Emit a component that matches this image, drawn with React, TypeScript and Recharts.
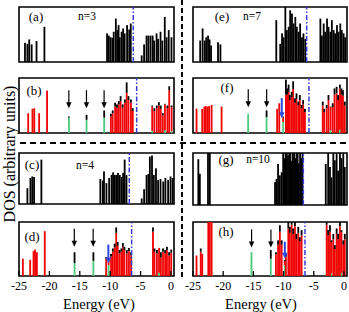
import React from "react";
import { ComposedChart, Bar, XAxis, YAxis, ReferenceLine, ReferenceArea, ReferenceDot } from "recharts";

const energyTicks = [-25, -20, -15, -10, -5, 0];
const X_MIN = -25;
const X_MAX = 0.5;

const RED = "#f00000";
const GREEN = "#4cc97c";
const BLUE = "#3a3ad8";
const ARROW_BLUE = "#2c49e0";
const SERIF = "'Liberation Serif', 'Times New Roman', serif";

// (a) n=3 total DOS
const aE = [-24.0, -23.6, -23.3, -22.9, -22.1, -20.8, -10.5, -10.2, -9.9, -9.6, -9.4, -9.05, -8.8, -8.6, -8.4, -8.1, -7.85, -7.6, -7.2, -6.85, -6.6, -4.8, -4.4, -4.0, -3.7, -3.35, -3.0, -2.75, -2.35, -2.1, -1.7, -1.4, -1.0, -0.7, -0.35, 0.1];
const aTot = [0.35, 0.33, 0.41, 0.32, 0.38, 0.64, 0.52, 0.48, 0.45, 0.44, 0.55, 0.79, 0.58, 0.67, 0.45, 0.55, 0.61, 0.52, 0.67, 0.59, 0.7, 0.12, 0.32, 0.48, 0.48, 0.48, 0.48, 0.39, 0.52, 0.42, 0.55, 0.39, 0.82, 0.45, 0.58, 0.45];
const aFermi = -6.2;

// (b) n=3 projected DOS
const bE = [-23.5, -22.8, -22.5, -21.7, -20.4, -16.8, -13.9, -11.0, -9.9, -9.6, -9.2, -8.9, -8.6, -8.3, -7.95, -7.6, -7.3, -7.0, -6.6, -6.3, -3.1, -2.75, -2.35, -2.0, -1.7, -1.35, -1.0, -0.6, -0.3, 0.1];
const bTot = [0.36, 0.44, 0.45, 0.36, 0.77, 0.3, 0.33, 0.41, 0.35, 0.41, 0.55, 0.52, 0.58, 0.67, 0.52, 0.61, 0.92, 0.67, 0.61, 0.45, 0.5, 0.45, 0.5, 0.56, 0.5, 0.36, 0.53, 0.5, 0.85, 0.5];
const bRed = [0.36, 0.44, 0.45, 0.36, 0.77, 0, 0, 0, 0.3, 0.36, 0.48, 0.46, 0.52, 0.58, 0.46, 0.55, 0.73, 0.6, 0.55, 0.4, 0.44, 0.4, 0.45, 0.5, 0.44, 0.32, 0.47, 0.45, 0.78, 0.44];
const bGreen = [0, 0, 0, 0, 0, 0.28, 0.24, 0.28, 0, 0, 0, 0, 0, 0, 0, 0, 0, 0, 0, 0, 0.04, 0, 0, 0, 0, 0, 0.05, 0, 0, 0.03];
const bArrowE = [-16.8, -13.9, -11.0];
const bFermi = -5.64;

// (c) n=4 total DOS
const cE = [-23.6, -23.1, -22.8, -22.5, -21.3, -11.6, -11.2, -11.0, -10.6, -10.15, -9.75, -9.5, -9.2, -8.9, -8.7, -8.4, -8.1, -7.85, -7.6, -7.3, -4.8, -4.4, -4.0, -3.7, -3.45, -3.1, -2.8, -2.45, -2.1, -1.7, -1.25, -0.9, -0.45, -0.05, 0.3];
const cTot = [0.31, 0.51, 0.54, 0.53, 0.87, 0.49, 0.46, 0.64, 0.41, 0.51, 0.57, 0.62, 0.57, 0.57, 0.61, 0.57, 0.53, 0.61, 0.87, 0.57, 0.11, 0.29, 0.57, 0.59, 0.93, 0.95, 0.57, 0.7, 0.47, 0.49, 0.44, 0.51, 0.47, 0.54, 0.51];
const cFermi = -6.86;

// (d) n=4 projected DOS
const dE = [-24.4, -23.2, -22.65, -22.4, -22.1, -20.8, -15.9, -12.8, -10.7, -10.3, -9.9, -9.6, -9.3, -9.05, -8.8, -8.5, -8.2, -7.95, -7.7, -7.3, -6.95, -6.6, -3.0, -2.75, -2.35, -2.0, -1.7, -1.35, -1.0, -0.7, -0.35, 0.0];
const dTot = [0.32, 0.3, 0.46, 0.49, 0.44, 0.83, 0.44, 0.44, 0.35, 0.3, 0.41, 0.51, 0.6, 0.9, 0.63, 0.48, 0.51, 0.61, 0.54, 0.48, 0.52, 0.44, 0.9, 0.51, 0.48, 0.52, 0.44, 0.51, 0.48, 0.54, 0.44, 0.49];
const dRed = [0.32, 0.3, 0.46, 0.49, 0.44, 0.83, 0, 0, 0.32, 0.1, 0.36, 0.45, 0.53, 0.8, 0.56, 0.42, 0.45, 0.54, 0.48, 0.42, 0.46, 0.38, 0.82, 0.45, 0.42, 0.46, 0.34, 0.45, 0.42, 0.48, 0.38, 0.43];
const dGreen = [0, 0, 0, 0, 0, 0, 0.24, 0.28, 0, 0.2, 0, 0, 0, 0, 0, 0, 0, 0, 0, 0, 0, 0, 0, 0, 0, 0.06, 0, 0, 0, 0, 0, 0];
const dArrowE = [-15.9, -12.8];
const dBlueArrowE = -10.3;
const dFermi = -6.47;

// (e) n=7 total DOS
const eE = [-23.85, -23.45, -23.1, -22.85, -22.55, -22.3, -22.05, -20.9, -20.5, -11.25, -10.6, -10.3, -10.05, -9.75, -9.5, -9.2, -8.95, -8.65, -8.4, -8.1, -7.85, -7.55, -7.3, -7.0, -6.75, -6.45, -3.95, -3.7, -3.4, -3.15, -2.85, -2.6, -2.3, -2.05, -1.75, -1.5, -1.2, -0.95, -0.65, -0.4, -0.1, 0.15];
const eTot = [0.39, 0.61, 0.39, 0.45, 0.48, 0.41, 0.3, 0.36, 0.32, 0.76, 0.33, 0.52, 0.45, 1.05, 0.58, 0.64, 0.94, 0.88, 0.7, 0.82, 0.64, 0.55, 0.7, 0.45, 0.52, 0.42, 0.79, 0.48, 0.7, 0.55, 0.79, 0.64, 0.55, 0.76, 0.58, 0.52, 0.67, 0.55, 0.7, 0.58, 0.52, 0.45];
const eFermi = -6.18;

// (f) n=7 projected DOS
const fE = [-24.4, -23.45, -23.1, -22.85, -22.55, -22.3, -21.9, -20.25, -15.85, -12.8, -11.05, -10.7, -10.05, -9.6, -9.4, -9.15, -8.95, -8.65, -8.4, -8.1, -7.85, -7.55, -7.3, -7.0, -6.75, -6.45, -3.5, -3.25, -2.85, -2.55, -2.2, -1.85, -1.55, -1.2, -0.95, -0.65, -0.4, -0.15, 0.15];
const fTot = [0.44, 0.44, 0.48, 0.49, 0.48, 0.49, 0.51, 0.48, 0.35, 0.41, 0.44, 0.54, 0.3, 0.97, 0.81, 0.88, 0.69, 0.75, 0.94, 0.63, 0.72, 0.57, 0.69, 0.51, 0.6, 0.44, 0.57, 0.44, 0.51, 0.69, 0.48, 0.54, 0.81, 0.84, 0.69, 0.88, 0.81, 0.78, 0.57];
const fRed = [0.44, 0.44, 0.48, 0.49, 0.48, 0.49, 0.51, 0.48, 0, 0, 0.44, 0.54, 0.08, 0.7, 0.7, 0.75, 0.6, 0.65, 0.8, 0.55, 0.62, 0.5, 0.6, 0.45, 0.52, 0.38, 0.5, 0.38, 0.45, 0.6, 0.42, 0.47, 0.7, 0.72, 0.6, 0.75, 0.7, 0.68, 0.5];
const fGreen = [0, 0, 0, 0, 0, 0, 0, 0, 0.35, 0.29, 0, 0, 0.2, 0, 0, 0, 0, 0, 0, 0, 0, 0, 0, 0, 0, 0, 0, 0, 0, 0, 0.05, 0, 0, 0, 0, 0.06, 0, 0, 0];
const fArrowE = [-15.85, -12.8];
const fBlueArrowE = -10.3;
const fFermi = -5.8;

// (g) n=10 total DOS
const gE = [-24.1, -23.85, -22.5, -22.2, -11.4, -11.15, -10.9, -10.6, -10.3, -10.05, -9.85, -9.65, -9.45, -9.25, -9.05, -8.85, -8.65, -8.45, -8.25, -8.05, -7.85, -7.65, -7.45, -7.25, -7.05, -6.85, -3.0, -2.6, -2.3, -2.05, -1.75, -1.5, -1.2, -0.95, -0.65, -0.4, -0.1, 0.15];
const gTot = [0.88, 0.6, 1.05, 1.05, 0.44, 0.5, 0.79, 0.57, 0.63, 1.05, 0.9, 1.05, 1.05, 0.95, 1.05, 1.05, 0.85, 1.05, 1.05, 0.9, 1.05, 1.05, 0.8, 1.05, 0.9, 1.05, 0.79, 1.05, 0.73, 0.53, 1.05, 0.86, 1.05, 0.66, 1.05, 0.9, 1.05, 0.73];
const gFermi = -6.73;

// (h) n=10 projected DOS
const hE = [-24.4, -23.7, -23.45, -22.45, -22.2, -21.9, -15.3, -12.1, -11.25, -10.9, -10.6, -10.3, -9.8, -9.6, -9.2, -8.95, -8.65, -8.4, -8.1, -7.85, -7.55, -7.3, -7.0, -2.85, -2.6, -2.3, -2.05, -1.75, -1.5, -1.2, -0.95, -0.65, -0.4, -0.1, 0.15];
const hTot = [0.38, 0.51, 0.41, 1.05, 1.05, 1.05, 0.44, 0.48, 0.44, 0.66, 0.94, 0.66, 0.3, 0.41, 1.0, 0.91, 1.05, 0.88, 1.05, 0.78, 0.91, 0.72, 0.85, 1.05, 0.85, 0.94, 0.66, 0.78, 0.57, 0.88, 0.78, 1.05, 0.85, 0.66, 0.78];
const hRed = [0.38, 0.45, 0.41, 1.05, 1.05, 1.05, 0, 0, 0.4, 0.58, 0.82, 0.58, 0.08, 0.36, 0.88, 0.8, 0.95, 0.78, 0.92, 0.68, 0.8, 0.64, 0.75, 0.95, 0.75, 0.82, 0.58, 0.68, 0.5, 0.78, 0.68, 0.92, 0.75, 0.58, 0.68];
const hGreen = [0, 0, 0, 0, 0, 0, 0.44, 0.32, 0, 0, 0, 0, 0.2, 0, 0, 0, 0, 0, 0, 0, 0, 0, 0, 0, 0, 0, 0.05, 0, 0, 0, 0, 0, 0.06, 0, 0];
const hArrowE = [-15.3, -12.1];
const hBlueArrowE = -9.8;
const hFermi = -6.46;

type Row = { e: number; g: number; r: number; k: number };
function rows(E: number[], tot: number[], red?: number[], green?: number[]): Row[] {
  return E.map((e, i) => {
    const g = green ? green[i] : 0;
    const r = red ? red[i] : 0;
    return { e, g, r, k: Math.max(0, tot[i] - r - g) };
  });
}

type ArrowSpec = { e: number; tip: number; len: number; color: string; width: number };
type PanelSpec = {
  left: number;
  top: number;
  w: number;
  h: number;
  data: Row[];
  fermi: number;
  axis: boolean;
  arrows: ArrowSpec[];
};

const blackArrows = (es: number[], tip: number): ArrowSpec[] =>
  es.map((e) => ({ e, tip, len: 18, color: "#000", width: 1.2 }));
const blueArrow = (e: number, tip: number, len: number): ArrowSpec => ({ e, tip, len, color: ARROW_BLUE, width: 2 });

const LX = 19;
const RX = 193;
const LW = 155;
const RW = 154;

const panels: PanelSpec[] = [
  { left: LX, top: 7, w: LW, h: 55, data: rows(aE, aTot), fermi: aFermi, axis: false, arrows: [] },
  { left: LX, top: 78, w: LW, h: 55, data: rows(bE, bTot, bRed, bGreen), fermi: bFermi, axis: false, arrows: blackArrows(bArrowE, 0.45) },
  { left: LX, top: 153, w: LW, h: 51, data: rows(cE, cTot), fermi: cFermi, axis: false, arrows: [] },
  { left: LX, top: 222, w: LW, h: 54, data: rows(dE, dTot, dRed, dGreen), fermi: dFermi, axis: true, arrows: [...blackArrows(dArrowE, 0.54), blueArrow(dBlueArrowE, 0.23, 19)] },
  { left: RX, top: 7, w: RW, h: 55, data: rows(eE, eTot), fermi: eFermi, axis: false, arrows: [] },
  { left: RX, top: 78, w: RW, h: 55, data: rows(fE, fTot, fRed, fGreen), fermi: fFermi, axis: false, arrows: [...blackArrows(fArrowE, 0.47), blueArrow(fBlueArrowE, 0.27, 20)] },
  { left: RX, top: 153, w: RW, h: 52, data: rows(gE, gTot), fermi: gFermi, axis: false, arrows: [] },
  { left: RX, top: 222, w: RW, h: 54, data: rows(hE, hTot, hRed, hGreen), fermi: hFermi, axis: true, arrows: [...blackArrows(hArrowE, 0.53), blueArrow(hBlueArrowE, 0.32, 17)] },
];

const SPIKE_W = 1.8;
// Draws a fixed-width spike centred on the bar position that Recharts computed.
const spikeShape = (fill: string) => (props: any) => {
  const { x, y, width, height } = props;
  if (x == null || y == null || !height || height <= 0) return <g />;
  const cx = x + width / 2;
  return <rect x={cx - SPIKE_W / 2} y={y} width={SPIKE_W} height={height} fill={fill} />;
};

function arrowShape(props: any, a: ArrowSpec) {
  const { cx, cy } = props;
  if (cx == null || cy == null || isNaN(cx) || isNaN(cy)) return <g />;
  return (
    <g>
      <line x1={cx} x2={cx} y1={cy - a.len} y2={cy - 4} stroke={a.color} strokeWidth={a.width} />
      <path d={`M${cx - 2.7},${cy - 6} L${cx + 2.7},${cy - 6} L${cx},${cy} Z`} fill={a.color} />
    </g>
  );
}

const makeTick = (show: boolean) => (props: any) => {
  const { x, y, payload } = props;
  return (
    <g>
      <line x1={x} x2={x} y1={y} y2={y - 5} stroke="#000" strokeWidth={1.3} />
      {show && (
        <text x={x} y={y + 14} textAnchor="middle" fontSize={12} fontFamily={SERIF} fill="#000">
          {payload.value}
        </text>
      )}
    </g>
  );
};

function Panel({ s }: { s: PanelSpec }) {
  const mv = 2;
  const mh = 12;
  const axisH = s.axis ? 24 : 0;
  return (
    <div style={{ position: "absolute", left: s.left - mh, top: s.top - mv }}>
      <ComposedChart
        width={s.w + 2 * mh}
        height={s.h + 2 * mv + axisH}
        data={s.data}
        margin={{ top: mv, right: mh, bottom: mv, left: mh }}
        barGap={0}
        barCategoryGap={0}
      >
        <XAxis
          type="number"
          dataKey="e"
          domain={[X_MIN, X_MAX]}
          ticks={energyTicks}
          interval={0}
          allowDataOverflow
          height={axisH}
          tickSize={0}
          tickMargin={0}
          tickLine={false}
          axisLine={false}
          tick={makeTick(s.axis)}
        />
        <YAxis hide domain={[0, 1]} allowDataOverflow />
        <Bar dataKey="g" stackId="s" fill={GREEN} shape={spikeShape(GREEN)} isAnimationActive={false} />
        <Bar dataKey="r" stackId="s" fill={RED} shape={spikeShape(RED)} isAnimationActive={false} />
        <Bar dataKey="k" stackId="s" fill="#000" shape={spikeShape("#000")} isAnimationActive={false} />
        <ReferenceLine x={s.fermi} stroke={BLUE} strokeWidth={1.5} strokeDasharray="5 2 1.5 2" />
        {s.arrows.map((a, i) => (
          <ReferenceDot key={i} x={a.e} y={a.tip} r={0} shape={(p: any) => arrowShape(p, a)} />
        ))}
        <ReferenceArea x1={X_MIN} x2={X_MAX} y1={0} y2={1} fill="none" fillOpacity={0} stroke="#000" strokeWidth={1.6} ifOverflow="visible" />
      </ComposedChart>
    </div>
  );
}

const panelLabels = [
  { t: "(a)", x: 36, y: 21 },
  { t: "(b)", x: 34, y: 95 },
  { t: "(c)", x: 32, y: 169 },
  { t: "(d)", x: 32, y: 241 },
  { t: "(e)", x: 222, y: 21 },
  { t: "(f)", x: 227, y: 92 },
  { t: "(g)", x: 226, y: 164 },
  { t: "(h)", x: 226, y: 236 },
];
const sizeLabels = [
  { t: "n=3", x: 87, y: 20 },
  { t: "n=4", x: 85, y: 169 },
  { t: "n=7", x: 252, y: 20 },
  { t: "n=10", x: 258, y: 163 },
];

export default function App() {
  return (
    <div style={{ position: "absolute", left: 0, top: 0, width: 349, height: 312, background: "#fff", overflow: "hidden" }}>
      {panels.map((s, i) => (
        <Panel key={i} s={s} />
      ))}
      <svg width={349} height={312} style={{ position: "absolute", left: 0, top: 0, pointerEvents: "none" }}>
        <line x1={20} x2={348} y1={143} y2={143} stroke="#000" strokeWidth={2} strokeDasharray="6 4" />
        <line x1={182} x2={182} y1={0} y2={278} stroke="#000" strokeWidth={2} strokeDasharray="5 3" />
        {panelLabels.map((l) => (
          <text key={l.t} x={l.x} y={l.y} textAnchor="middle" fontSize={13} fontFamily={SERIF} fill="#000">
            {l.t}
          </text>
        ))}
        {sizeLabels.map((l) => (
          <text key={l.t} x={l.x} y={l.y} textAnchor="middle" fontSize={11.5} fontFamily={SERIF} fill="#000">
            {l.t}
          </text>
        ))}
        <text x={99} y={309} textAnchor="middle" fontSize={14.5} fontFamily={SERIF} fill="#000">
          Energy (eV)
        </text>
        <text x={261} y={309} textAnchor="middle" fontSize={14.5} fontFamily={SERIF} fill="#000">
          Energy (eV)
        </text>
        <text x={15} y={154} textAnchor="middle" fontSize={16} fontFamily={SERIF} fill="#000" transform="rotate(-90 15 154)">
          DOS (arbitrary units)
        </text>
      </svg>
    </div>
  );
}
